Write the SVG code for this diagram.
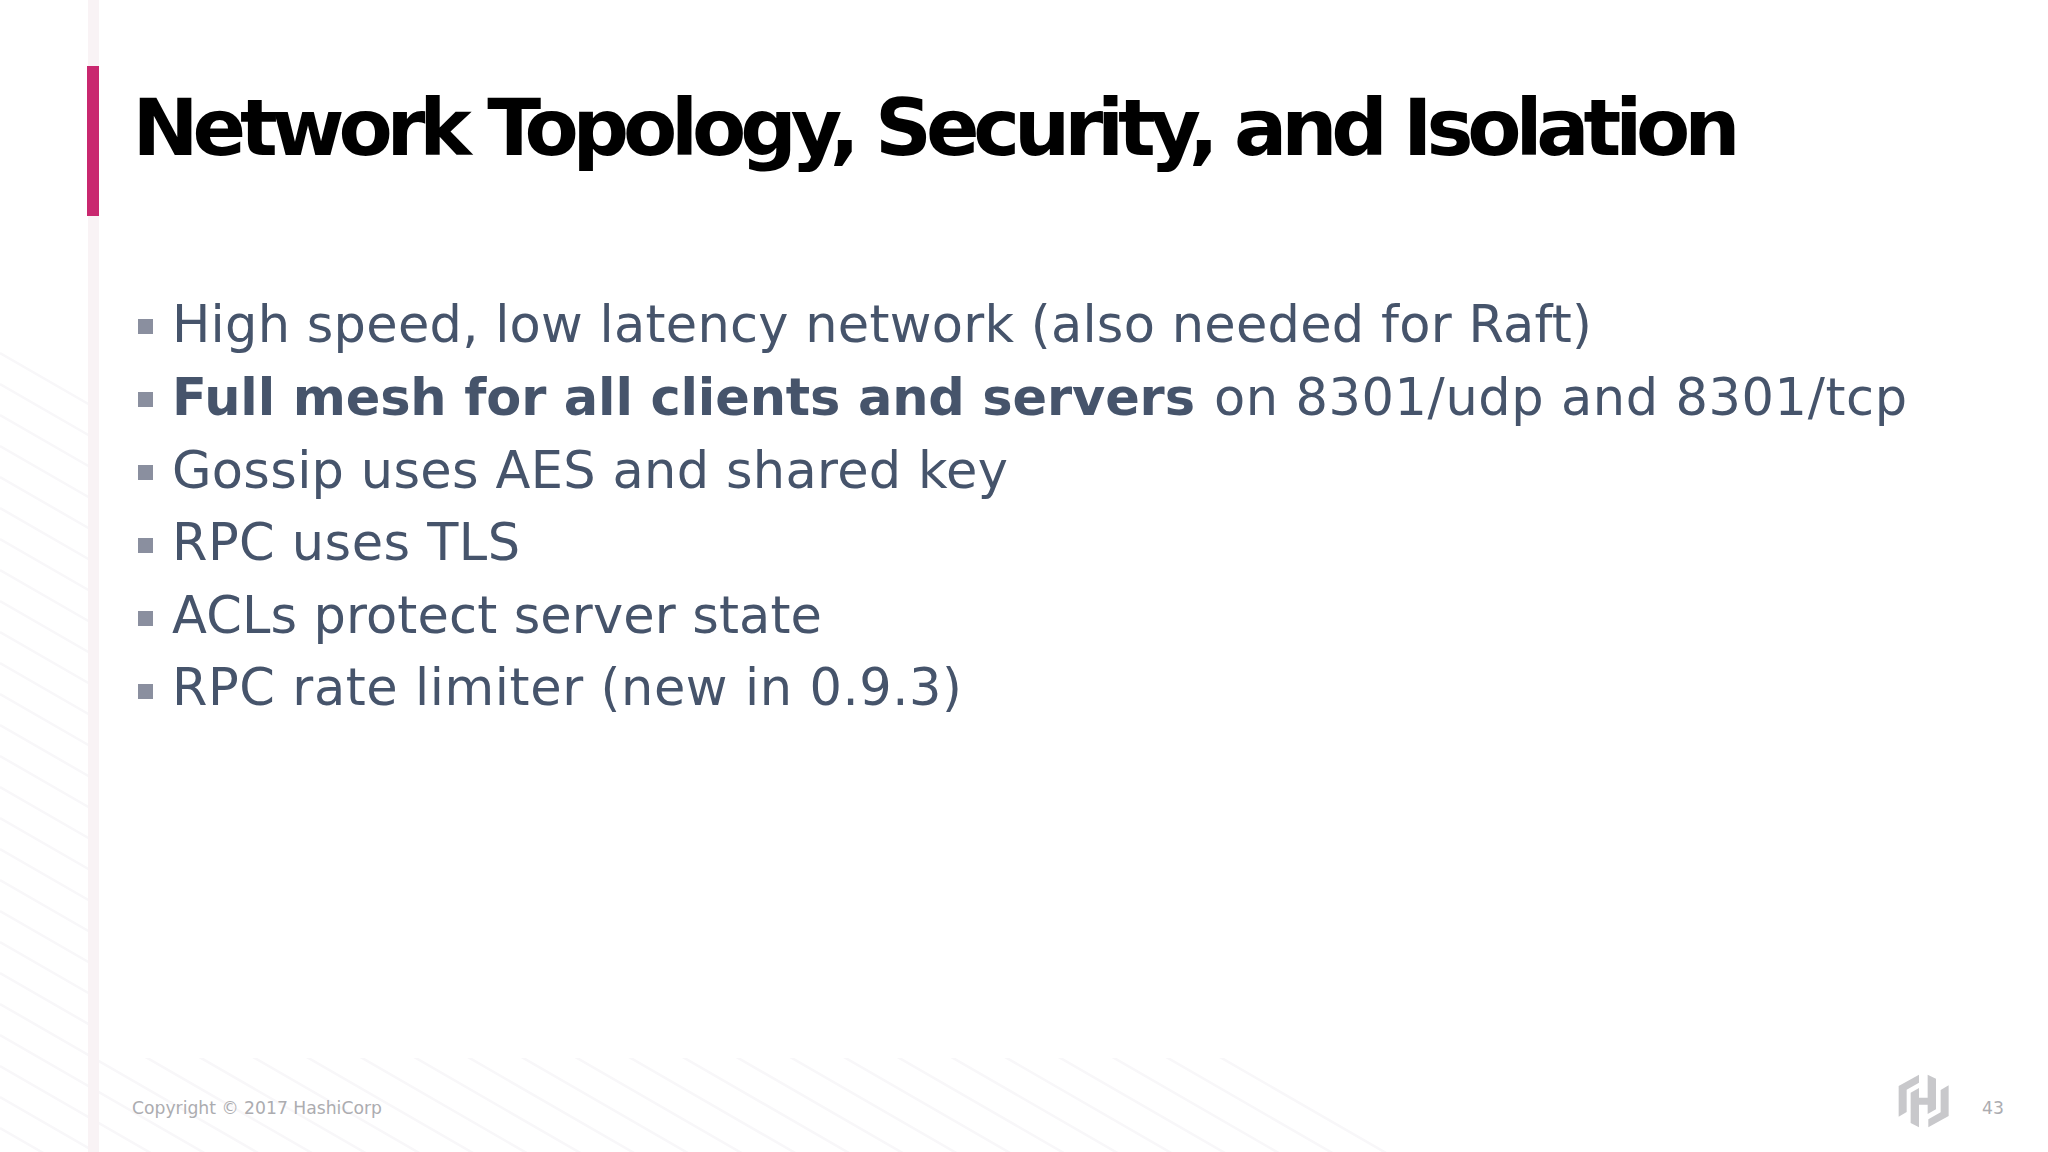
<svg xmlns="http://www.w3.org/2000/svg" width="2048" height="1152" viewBox="0 0 2048 1152">
<style>
.b{font-family:"DejaVu Sans",Verdana,sans-serif;font-size:51px;fill:#46546b}
.bull{fill:#8a8f9f}
.f{font-family:"DejaVu Sans",Verdana,sans-serif;font-size:17.2px;fill:#acacb0}
</style>
<defs>
<clipPath id="hc"><path d="M0 340H99V1058H1500V1152H0Z"/></clipPath>
</defs>
<rect width="2048" height="1152" fill="#fff"/>
<g clip-path="url(#hc)" stroke="#f8f7f9" stroke-width="2.5" fill="none">
<path d="M0 353L1400 1161M0 384L1400 1192M0 415L1400 1223M0 446L1400 1254M0 477L1400 1285M0 508L1400 1316M0 539L1400 1347M0 570L1400 1378M0 601L1400 1409M0 632L1400 1440M0 663L1400 1471M0 694L1400 1502M0 725L1400 1533M0 756L1400 1564M0 787L1400 1595M0 818L1400 1626M0 849L1400 1657M0 880L1400 1688M0 911L1400 1719M0 942L1400 1750M0 973L1400 1781M0 1004L1400 1812M0 1035L1400 1843M0 1066L1400 1874M0 1097L1400 1905M0 1128L1400 1936"/>
</g>
<rect x="88" y="0" width="11" height="1152" fill="#f9f3f5"/>
<rect x="87" y="66" width="12" height="150" fill="#c9286f"/>
<text x="132.500" y="155" font-family="DejaVu Sans,sans-serif" font-weight="700" font-size="79" textLength="1608" lengthAdjust="spacing" fill="#000">Network Topology, Security, and Isolation</text>
<g class="b">
<rect class="bull" x="138" y="319" width="15" height="15"/><text x="172" y="341.500" textLength="1420">High speed, low latency network (also needed for Raft)</text>
<rect class="bull" x="138" y="392" width="15" height="15"/><text x="172" y="414.500" textLength="1023" font-weight="700">Full mesh for all clients and servers</text><text x="1214" y="414.500" textLength="693">on 8301/udp and 8301/tcp</text>
<rect class="bull" x="138" y="465" width="15" height="15"/><text x="172" y="487.500" textLength="836">Gossip uses AES and shared key</text>
<rect class="bull" x="138" y="538" width="15" height="15"/><text x="172" y="560" textLength="348">RPC uses TLS</text>
<rect class="bull" x="138" y="611" width="15" height="15"/><text x="172" y="632.500" textLength="650">ACLs protect server state</text>
<rect class="bull" x="138" y="684" width="15" height="15"/><text x="172" y="705" textLength="790">RPC rate limiter (new in 0.9.3)</text>
</g>
<text class="f" x="132" y="1114">Copyright © 2017 HashiCorp</text>
<text class="f" x="1982" y="1114">43</text>
<g id="logo" transform="translate(1848 1052) scale(.3333)" fill="#c8c8cb">
<path d="M152 102L213 68V92L176 113V180L152 194Z"/>
<path d="M188 122L213 108V137H239V68L264 80V172L239 186V158H213V226L188 213Z"/>
<path d="M302 192L241 226V202L278 181V114L302 100Z"/>
</g>
</svg>
